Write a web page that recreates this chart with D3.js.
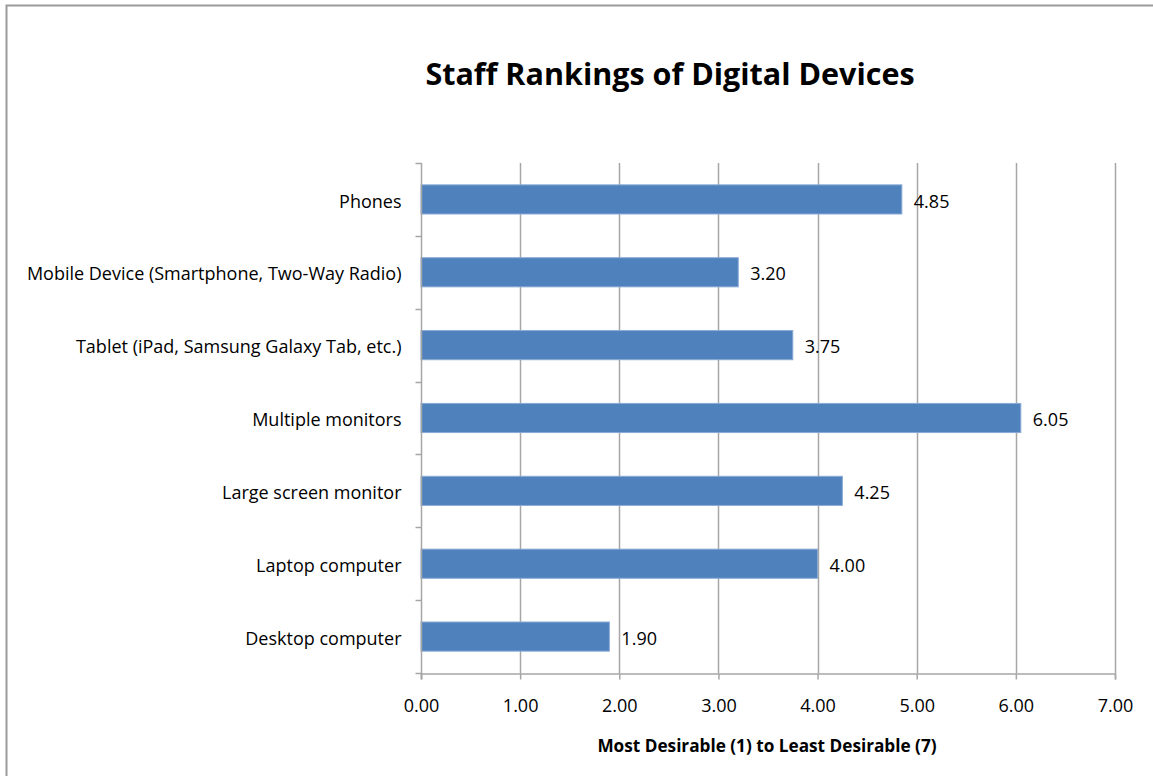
<!DOCTYPE html>
<html>
<head>
<meta charset="utf-8">
<script src="https://cdn.jsdelivr.net/npm/d3@7"></script>
<style>
  html, body { margin: 0; padding: 0; background: #fff; }
  svg { display: block; }
  text { font-family: "Open Sans", "Liberation Sans", sans-serif; fill: #000; }
</style>
</head>
<body>
<script>
// Categories, listed from top to bottom
const categories = [
  "Phones",
  "Mobile Device (Smartphone, Two-Way Radio)",
  "Tablet (iPad, Samsung Galaxy Tab, etc.)",
  "Multiple monitors",
  "Large screen monitor",
  "Laptop computer",
  "Desktop computer"
];
// Average ranking per device
const values = [4.85, 3.20, 3.75, 6.05, 4.25, 4.00, 1.90];
// X axis ticks
const xTicks = [0, 1, 2, 3, 4, 5, 6, 7];

const chartTitle = "Staff Rankings of Digital Devices";
const xAxisTitle = "Most Desirable (1) to Least Desirable (7)";

const W = 1153, H = 776;
const plot = { left: 421, right: 1115, top: 163, bottom: 673 };
const labelSize = 18;

const svg = d3.select("body").append("svg")
  .attr("width", W).attr("height", H);

// Outer frame (top and left edges)
svg.append("path")
  .attr("d", `M6.5,${H} L6.5,5.5 L${W},5.5`)
  .attr("fill", "none")
  .attr("stroke", "#9a9a9a")
  .attr("stroke-width", 2);

const x = d3.scaleLinear().domain([0, 7]).range([plot.left, plot.right]);
const y = d3.scaleBand().domain(categories).range([plot.top, plot.bottom]).paddingInner(0.6).paddingOuter(0.3);
const yBand = d3.scaleBand().domain(categories).range([plot.top, plot.bottom]);

const gridColor = "#a6a6a6";

// Vertical gridlines
svg.append("g").selectAll("line")
  .data(xTicks.filter(d => d > 0))
  .join("line")
  .attr("x1", d => Math.round(x(d)) + 0.5)
  .attr("x2", d => Math.round(x(d)) + 0.5)
  .attr("y1", plot.top)
  .attr("y2", plot.bottom)
  .attr("stroke", gridColor)
  .attr("stroke-width", 1.5);

// Bars
svg.append("g").selectAll("rect")
  .data(categories)
  .join("rect")
  .attr("x", x(0))
  .attr("y", (d) => y(d))
  .attr("width", (d, i) => x(values[i]) - x(0))
  .attr("height", y.bandwidth())
  .attr("fill", "#4f81bd")
  .attr("stroke", "#8aaad6")
  .attr("stroke-width", 1);

// Value labels
svg.append("g").selectAll("text")
  .data(categories)
  .join("text")
  .attr("x", (d, i) => x(values[i]) + 12)
  .attr("y", d => y(d) + y.bandwidth() / 2)
  .attr("dy", "0.45em")
  .attr("font-size", labelSize)
  .text((d, i) => values[i].toFixed(2));

// X axis
const xAxis = d3.axisBottom(x).tickValues(xTicks).tickFormat(d3.format(".2f")).tickSize(6).tickPadding(20);
const gx = svg.append("g").attr("transform", `translate(0,${plot.bottom + 0.5})`).call(xAxis);
gx.select(".domain").attr("stroke", gridColor).attr("stroke-width", 1.5);
gx.selectAll(".tick line").attr("stroke", gridColor).attr("stroke-width", 1.5);
gx.selectAll(".tick text").attr("font-size", labelSize).attr("font-family", "'Open Sans', sans-serif").attr("fill", "#000");

// Y axis: ticks sit between categories
const gy = svg.append("g").attr("transform", `translate(${plot.left + 0.5},0)`);
gy.append("line")
  .attr("x1", 0).attr("x2", 0)
  .attr("y1", plot.top).attr("y2", plot.bottom + 6)
  .attr("stroke", gridColor).attr("stroke-width", 1.5);
const yTickPos = categories.map(c => yBand(c)).concat([plot.bottom]);
gy.selectAll("line.tk")
  .data(yTickPos)
  .join("line")
  .attr("class", "tk")
  .attr("x1", -6).attr("x2", 0)
  .attr("y1", d => Math.round(d) + 0.5)
  .attr("y2", d => Math.round(d) + 0.5)
  .attr("stroke", gridColor).attr("stroke-width", 1.5);
gy.selectAll("text")
  .data(categories)
  .join("text")
  .attr("x", -20)
  .attr("y", d => yBand(d) + yBand.bandwidth() / 2)
  .attr("dy", "0.45em")
  .attr("text-anchor", "end")
  .attr("font-size", labelSize)
  .text(d => d);

// Titles
svg.append("text")
  .attr("x", 670)
  .attr("y", 85)
  .attr("text-anchor", "middle")
  .attr("font-size", 30.5)
  .attr("font-weight", "bold")
  .text(chartTitle);

svg.append("text")
  .attr("x", 767)
  .attr("y", 752)
  .attr("text-anchor", "middle")
  .attr("font-size", 17.2)
  .attr("font-weight", "bold")
  .text(xAxisTitle);
</script>
</body>
</html>
